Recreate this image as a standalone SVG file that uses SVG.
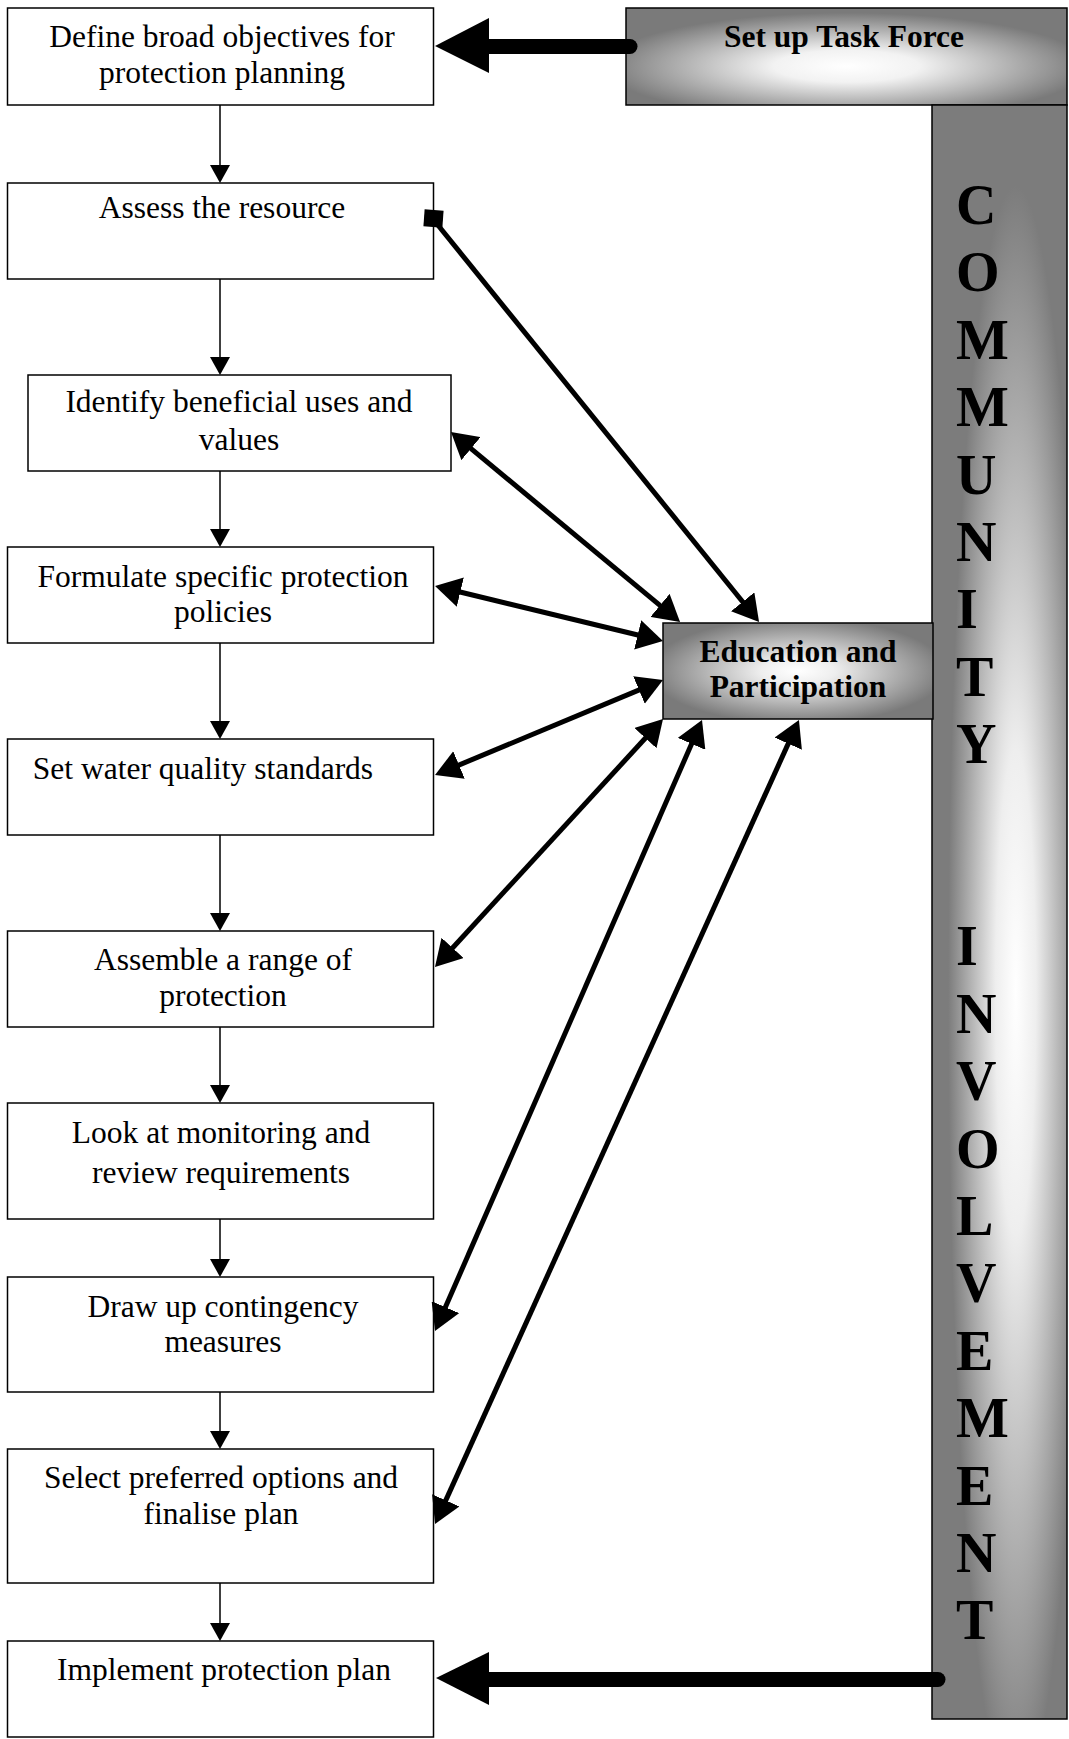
<svg xmlns="http://www.w3.org/2000/svg" width="1069" height="1739" viewBox="0 0 1069 1739">
<style>
.box{fill:#fff;stroke:#000;stroke-width:1.5}
.gbox{stroke:#000;stroke-width:1.5}
.t{font-family:"Liberation Serif","Times New Roman",serif;font-size:31.5px;fill:#000;text-anchor:middle}
.b{font-family:"Liberation Serif","Times New Roman",serif;font-size:31.5px;font-weight:bold;fill:#000;text-anchor:middle}
.c{font-family:"Liberation Serif","Times New Roman",serif;font-size:56px;font-weight:bold;fill:#000}
.thin{stroke:#000;stroke-width:1.5;fill:none}
.thick{stroke:#000;stroke-width:5;fill:none}
.big{stroke:#000;stroke-width:15;fill:none;stroke-linecap:round}
</style>
<defs>
<radialGradient id="gTask" cx="0.5" cy="0.6" r="0.55">
<stop offset="0" stop-color="#ffffff"/>
<stop offset="0.3" stop-color="#f2f2f2"/>
<stop offset="1" stop-color="#7a7a7a"/>
</radialGradient>
<radialGradient id="gEdu" cx="0.5" cy="0.5" r="0.55">
<stop offset="0" stop-color="#ffffff"/>
<stop offset="0.25" stop-color="#eeeeee"/>
<stop offset="1" stop-color="#7a7a7a"/>
</radialGradient>
<radialGradient id="gBar" cx="0.62" cy="0.55" r="0.5">
<stop offset="0" stop-color="#ffffff"/>
<stop offset="0.3" stop-color="#eeeeee"/>
<stop offset="1" stop-color="#7c7c7c"/>
</radialGradient>
<marker id="ah" markerUnits="userSpaceOnUse" markerWidth="26" markerHeight="30" viewBox="0 0 26 30" refX="14" refY="15" orient="auto-start-reverse">
<path d="M0,0 L26,15 L0,30 z" fill="#000"/>
</marker>
</defs>

<g id="task-force">
<rect class="gbox" x="626" y="8" width="441" height="97" fill="url(#gTask)"/>
<text class="b" x="844" y="47">Set up Task Force</text>
</g>
<g id="community-involvement">
<rect class="gbox" x="932" y="105" width="135" height="1614" fill="url(#gBar)"/>
<text class="c" x="956" y="224"><tspan x="956">C</tspan><tspan x="956" dy="67.4">O</tspan><tspan x="956" dy="67.4">M</tspan><tspan x="956" dy="67.4">M</tspan><tspan x="956" dy="67.4">U</tspan><tspan x="956" dy="67.4">N</tspan><tspan x="956" dy="67.4">I</tspan><tspan x="956" dy="67.4">T</tspan><tspan x="956" dy="67.4">Y</tspan><tspan x="956" dy="202.2">I</tspan><tspan x="956" dy="67.4">N</tspan><tspan x="956" dy="67.4">V</tspan><tspan x="956" dy="67.4">O</tspan><tspan x="956" dy="67.4">L</tspan><tspan x="956" dy="67.4">V</tspan><tspan x="956" dy="67.4">E</tspan><tspan x="956" dy="67.4">M</tspan><tspan x="956" dy="67.4">E</tspan><tspan x="956" dy="67.4">N</tspan><tspan x="956" dy="67.4">T</tspan></text>
</g>
<g id="education">
<rect class="gbox" x="663" y="623" width="270" height="96" fill="url(#gEdu)"/>
<text class="b" x="798" y="662">Education and</text>
<text class="b" x="798" y="697">Participation</text>
</g>

<g id="n1">
<rect class="box" x="7.5" y="8" width="426" height="97"/>
<text class="t" x="222" y="47">Define broad objectives for</text>
<text class="t" x="222" y="83">protection planning</text>
</g>
<g id="n2">
<rect class="box" x="7.5" y="183" width="426" height="96"/>
<text class="t" x="222" y="218">Assess the resource</text>
</g>
<g id="n3">
<rect class="box" x="28" y="375" width="423" height="96"/>
<text class="t" x="239" y="412">Identify beneficial uses and</text>
<text class="t" x="239" y="450">values</text>
</g>
<g id="n4">
<rect class="box" x="7.5" y="547" width="426" height="96"/>
<text class="t" x="223" y="587">Formulate specific protection</text>
<text class="t" x="223" y="622">policies</text>
</g>
<g id="n5">
<rect class="box" x="7.5" y="739" width="426" height="96"/>
<text class="t" x="203" y="779">Set water quality standards</text>
</g>
<g id="n6">
<rect class="box" x="7.5" y="931" width="426" height="96"/>
<text class="t" x="223" y="970">Assemble a range of</text>
<text class="t" x="223" y="1006">protection</text>
</g>
<g id="n7">
<rect class="box" x="7.5" y="1103" width="426" height="116"/>
<text class="t" x="221" y="1143">Look at monitoring and</text>
<text class="t" x="221" y="1183">review requirements</text>
</g>
<g id="n8">
<rect class="box" x="7.5" y="1277" width="426" height="115"/>
<text class="t" x="223" y="1317">Draw up contingency</text>
<text class="t" x="223" y="1352">measures</text>
</g>
<g id="n9">
<rect class="box" x="7.5" y="1449" width="426" height="134"/>
<text class="t" x="221" y="1488">Select preferred options and</text>
<text class="t" x="221" y="1524">finalise plan</text>
</g>
<g id="n10">
<rect class="box" x="7.5" y="1641" width="426" height="96"/>
<text class="t" x="224" y="1680">Implement protection plan</text>
</g>

<g id="connectors">
<line class="thin" x1="220" y1="105" x2="220" y2="170"/>
<polygon points="210,165 230,165 220,183"/>
<line class="thin" x1="220" y1="279" x2="220" y2="362"/>
<polygon points="210,357 230,357 220,375"/>
<line class="thin" x1="220" y1="471" x2="220" y2="534"/>
<polygon points="210,529 230,529 220,547"/>
<line class="thin" x1="220" y1="643" x2="220" y2="726"/>
<polygon points="210,721 230,721 220,739"/>
<line class="thin" x1="220" y1="835" x2="220" y2="918"/>
<polygon points="210,913 230,913 220,931"/>
<line class="thin" x1="220" y1="1027" x2="220" y2="1090"/>
<polygon points="210,1085 230,1085 220,1103"/>
<line class="thin" x1="220" y1="1219" x2="220" y2="1264"/>
<polygon points="210,1259 230,1259 220,1277"/>
<line class="thin" x1="220" y1="1392" x2="220" y2="1436"/>
<polygon points="210,1431 230,1431 220,1449"/>
<line class="thin" x1="220" y1="1583" x2="220" y2="1628"/>
<polygon points="210,1623 230,1623 220,1641"/>

<line class="big" x1="485" y1="46.5" x2="630" y2="46.5"/>
<polygon points="435,46 489,18 489,73"/>
<line class="big" x1="485" y1="1679.5" x2="938" y2="1679.5"/>
<polygon points="436,1678 489,1652 489,1705"/>

<rect x="424" y="210" width="19" height="17" transform="rotate(4 433.5 218.5)"/>
<line class="thick" x1="433" y1="219" x2="751.5" y2="612.7" marker-end="url(#ah)"/>
<line class="thick" x1="460.2" y1="439.7" x2="670.8" y2="614.3" marker-start="url(#ah)" marker-end="url(#ah)"/>
<line class="thick" x1="446.7" y1="588.8" x2="651.3" y2="638.2" marker-start="url(#ah)" marker-end="url(#ah)"/>
<line class="thick" x1="446.1" y1="770.4" x2="651.9" y2="684.6" marker-start="url(#ah)" marker-end="url(#ah)"/>
<line class="thick" x1="443.1" y1="958.2" x2="654.9" y2="727.8" marker-start="url(#ah)" marker-end="url(#ah)"/>
<line class="thick" x1="439.8" y1="1320" x2="697.2" y2="731" marker-start="url(#ah)" marker-end="url(#ah)"/>
<line class="thick" x1="440" y1="1513.1" x2="794" y2="730.9" marker-start="url(#ah)" marker-end="url(#ah)"/>
</g>
</svg>
